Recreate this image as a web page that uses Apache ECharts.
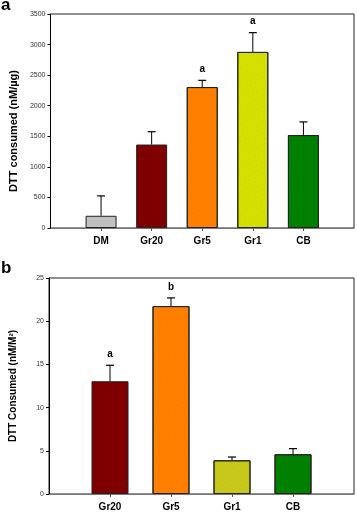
<!DOCTYPE html>
<html><head><meta charset="utf-8">
<script src="https://cdn.jsdelivr.net/npm/echarts@6/dist/echarts.min.js"></script>
<style>html,body{margin:0;padding:0;background:#fff}#c{width:357px;height:512px}</style>
</head><body><div id="c"></div>
<script>
// Panel a
var catsA = ['', 'DM', 'Gr20', 'Gr5', 'Gr1', 'CB', ''];
var valsA = ['-', 200, 1365, 2305, 2880, 1520, '-'];
var errA  = ['-', 325, 210, 110, 315, 215, '-'];
var sigA  = ['', '', '', 'a', 'a', '', ''];
var colorsA = ['#fff', '#c0c0c0', '#7f0000', '#ff8000', '#d4e000', '#008000', '#fff'];
var dottedA = [false, false, false, true, true, true, false];
var yTicksA = {min: 0, max: 3500, interval: 500};
// Panel b
var catsB = ['', 'Gr20', 'Gr5', 'Gr1', 'CB', ''];
var valsB = ['-', 13.05, 21.75, 3.9, 4.6, '-'];
var errB  = ['-', 1.85, 0.95, 0.38, 0.65, '-'];
var sigB  = ['', 'a', 'b', '', '', ''];
var colorsB = ['#fff', '#7f0000', '#ff8000', '#c8c81a', '#008000', '#fff'];
var dottedB = [false, false, true, true, true, false];
var yTicksB = {min: 0, max: 25, interval: 5};

var FONT = 'Arial, "Liberation Sans", Helvetica, sans-serif';
function barData(vals, colors, dotted) {
  return vals.map(function (v, i) {
    if (v === '-') return '-';
    var st = {color: colors[i]};
    if (dotted[i]) {
      st.decal = {symbol: 'circle', symbolSize: 0.6, color: 'rgba(70,40,0,0.35)',
        dashArrayX: [[1, 5], [0, 3, 1, 2]], dashArrayY: [1, 3], rotation: 0.4};
    }
    return {value: v, itemStyle: st};
  });
}
function errData(vals, errs, sig) {
  var out = [];
  vals.forEach(function (v, i) { if (v !== '-') out.push([i, v, v + errs[i], sig[i]]); });
  return out;
}
function errRender(params, api) {
  var x = api.value(0);
  var p0 = api.coord([x, api.value(1)]);
  var p1 = api.coord([x, api.value(2)]);
  var children = [
    {type: 'line', shape: {x1: p0[0], y1: p0[1], x2: p1[0], y2: p1[1]}, style: {stroke: '#000', lineWidth: 1}},
    {type: 'line', shape: {x1: p1[0] - 4, y1: p1[1], x2: p1[0] + 4, y2: p1[1]}, style: {stroke: '#000', lineWidth: 1.2}}
  ];
  var s = api.value(3);
  if (s) {
    children.push({type: 'text', style: {text: s, x: p1[0], y: p1[1] - 6, align: 'center', verticalAlign: 'bottom',
      font: 'bold 10px ' + FONT, fill: '#000'}});
  }
  return {type: 'group', children: children};
}

function yAxis(idx, t, name, gap, nameSize, pad) {
  return {
    type: 'value', gridIndex: idx, min: t.min, max: t.max, interval: t.interval,
    name: name, nameLocation: 'middle', nameGap: gap,
    nameTextStyle: {fontFamily: FONT, fontWeight: 'bold', fontSize: nameSize, color: '#000', padding: pad},
    axisLine: {show: true, lineStyle: {color: '#000', width: 1}},
    axisTick: {show: true, length: 3, inside: false, lineStyle: {color: '#000'}},
    axisLabel: {fontFamily: FONT, fontSize: 7, color: '#333', margin: 5, formatter: function (v) { return String(v); }},
    splitLine: {show: false}
  };
}
function xAxis(idx, cats) {
  return {
    type: 'category', gridIndex: idx, data: cats, boundaryGap: false,
    axisLine: {lineStyle: {color: '#777', width: 1}},
    axisTick: {show: true, length: 3, alignWithLabel: true, interval: function (i, v) { return v !== ''; }, lineStyle: {color: '#555'}},
    axisLabel: {interval: 0, fontFamily: FONT, fontWeight: 'bold', fontSize: 10, color: '#000', margin: 8},
    splitLine: {show: false}
  };
}

var chart = echarts.init(document.getElementById('c'), null, {renderer: 'canvas'});
chart.setOption({
  animation: false,
  backgroundColor: '#fff',
  grid: [
    {left: 49, top: 14, width: 306, height: 214, show: true, borderColor: '#222', borderWidth: 1},
    {left: 49, top: 278, width: 307, height: 216, show: true, borderColor: '#222', borderWidth: 1}
  ],
  xAxis: [xAxis(0, catsA), xAxis(1, catsB)],
  yAxis: [yAxis(0, yTicksA, 'DTT consumed (nM/µg)', 28, 11, [0, 20, 0, 0]),
          yAxis(1, yTicksB, 'DTT Consumed (nM/M²)', 31, 10, 0)],
  graphic: [
    {type: 'text', left: 1, top: -3, style: {text: 'a', font: 'bold 17px ' + FONT, fill: '#000'}},
    {type: 'text', left: 1, top: 260, style: {text: 'b', font: 'bold 17px ' + FONT, fill: '#000'}}
  ],
  series: [
    {type: 'bar', xAxisIndex: 0, yAxisIndex: 0, data: barData(valsA, colorsA, dottedA), barWidth: 31,
      itemStyle: {borderColor: '#222', borderWidth: 1}},
    {type: 'custom', xAxisIndex: 0, yAxisIndex: 0, data: errData(valsA, errA, sigA), renderItem: errRender, z: 5},
    {type: 'bar', xAxisIndex: 1, yAxisIndex: 1, data: barData(valsB, colorsB, dottedB), barWidth: 37,
      itemStyle: {borderColor: '#222', borderWidth: 1}},
    {type: 'custom', xAxisIndex: 1, yAxisIndex: 1, data: errData(valsB, errB, sigB), renderItem: errRender, z: 5}
  ]
});
</script></body></html>
